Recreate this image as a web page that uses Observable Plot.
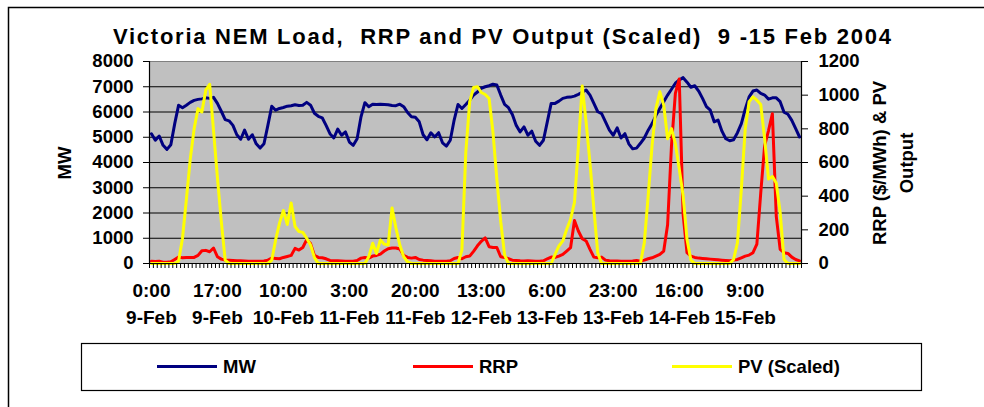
<!DOCTYPE html>
<html>
<head>
<meta charset="utf-8">
<script src="https://cdn.jsdelivr.net/npm/d3@7"></script>
<script src="https://cdn.jsdelivr.net/npm/@observablehq/plot@0.6"></script>
<style>
  html, body { margin: 0; padding: 0; background: #fff; }
  #chart { position: relative; width: 984px; height: 407px; overflow: hidden; }
  #chart svg { position: absolute; left: 0; top: 0; }
</style>
</head>
<body>
<div id="chart"></div>
<script>
// Hourly values, 0:00 9-Feb-2004 to 23:00 15-Feb-2004 (168 hours)
const mw = [
  5140,4880,5050,4680,4520,4700,5540,6270,6170,6270,6380,6460,6500,6520,6560,6540,6580,6340,6030,5700,5650,5470,5100,4920,
  5280,4920,5100,4740,4570,4740,5470,6230,6070,6140,6180,6230,6250,6290,6260,6270,6380,6270,5950,5830,5770,5470,5140,4970,
  5320,5080,5210,4810,4680,4940,5810,6370,6210,6310,6300,6310,6300,6290,6260,6250,6310,6210,5980,5810,5790,5610,5100,4900,
  5180,5010,5180,4780,4650,4880,5680,6300,6140,6300,6470,6670,6790,6940,7000,7040,7100,7070,6670,6300,6170,5900,5470,5210,
  5410,5080,5240,4840,4680,4880,5610,6340,6340,6430,6540,6580,6590,6630,6700,6780,6870,6670,6340,6010,5940,5610,5280,5080,
  5370,4970,5140,4740,4540,4570,4760,4970,5280,5540,5870,6140,6410,6670,6900,7140,7270,7360,7180,6980,7040,6830,6540,6210,
  6070,5610,5680,5240,4940,4860,4900,5180,5540,6110,6600,6830,6870,6740,6670,6510,6560,6560,6410,5990,5910,5670,5340,5010
];
const rrp = [
  14,12,14,8,8,10,24,38,34,36,36,36,48,76,78,70,92,40,26,20,20,18,16,16,
  15,14,14,14,14,15,20,32,30,28,36,42,48,90,80,95,142,118,48,36,34,28,18,16,
  16,15,14,14,14,18,32,36,32,44,48,56,74,88,92,92,86,48,36,32,36,24,20,18,
  16,14,14,14,14,16,30,36,28,40,44,72,105,132,152,100,95,95,40,36,28,20,18,16,
  15,16,15,14,14,16,28,38,36,44,54,74,94,255,193,147,134,84,38,34,38,20,16,15,
  15,14,14,14,15,18,14,20,28,34,44,54,74,230,700,1010,1096,290,64,44,36,32,30,28,
  26,24,22,20,18,16,20,24,34,44,50,64,115,420,700,790,890,280,84,64,60,38,24,16
];
const pv = [
  0,0,0,0,0,0,0,15,150,380,620,800,920,900,1030,1065,790,510,250,20,0,0,0,0,
  0,0,0,0,0,0,0,20,140,240,315,232,360,220,190,185,150,110,35,0,0,0,0,0,
  0,0,0,0,0,0,0,0,40,120,60,140,115,110,330,210,110,40,10,0,0,0,0,0,
  0,0,0,0,0,0,0,0,80,660,960,1046,1050,1016,1004,980,780,500,250,50,0,0,0,0,
  0,0,0,0,0,0,0,0,54,104,134,203,263,363,695,1055,840,596,325,62,0,0,0,0,
  0,0,0,0,0,0,0,124,403,702,921,1020,941,741,801,712,562,403,144,20,0,0,0,0,
  0,0,0,0,0,0,24,124,442,801,961,990,970,945,741,502,516,478,303,24,0,0,0,0
];

// Axis tick values and category labels
const leftTicks = [0,1000,2000,3000,4000,5000,6000,7000,8000];
const rightTicks = [0,200,400,600,800,1000,1200];
const labelIndex = [0,17,34,51,68,85,102,119,136,153];
const labelTimes = ["0:00","17:00","10:00","3:00","20:00","13:00","6:00","23:00","16:00","9:00"];
const labelDates = ["9-Feb","9-Feb","10-Feb","11-Feb","11-Feb","12-Feb","13-Feb","13-Feb","14-Feb","15-Feb"];
const seriesNames = ["MW","RRP","PV (Scaled)"];
const seriesColors = ["#000080","#FF0000","#FFFF00"];

const k = 8000 / 1200; // secondary axis -> primary axis
const hours = d3.range(mw.length);
const boundaries = d3.range(mw.length + 1).map(b => b - 0.5);
const FONT = "'Liberation Sans', Arial, Helvetica, sans-serif";

const chart = Plot.plot({
  width: 984,
  height: 407,
  marginLeft: 149,
  marginRight: 183,
  marginTop: 61,
  marginBottom: 144,
  x: {domain: [-0.5, mw.length - 0.5], axis: null},
  y: {domain: [0, 8000], axis: null},
  style: {fontFamily: FONT, fontWeight: "bold", color: "#000", background: "transparent"},
  marks: [
    Plot.frame({fill: "#C0C0C0", stroke: "#808080"}),
    Plot.ruleY(leftTicks.slice(1, -1), {stroke: "#000", strokeWidth: 1}),
    Plot.line(hours, {x: d => d, y: i => mw[i], stroke: seriesColors[0], strokeWidth: 3, strokeLinejoin: "round"}),
    Plot.line(hours, {x: d => d, y: i => rrp[i] * k, stroke: seriesColors[1], strokeWidth: 3, strokeLinejoin: "round"}),
    Plot.line(hours, {x: d => d, y: i => pv[i] * k, stroke: seriesColors[2], strokeWidth: 3, strokeLinejoin: "round"}),
    Plot.ruleX([-0.5, mw.length - 0.5], {stroke: "#000", strokeWidth: 1.2}),
    Plot.ruleY([0], {stroke: "#000", strokeWidth: 1.2}),
    Plot.axisY({ticks: leftTicks, tickSize: 6, tickPadding: 10, fontSize: 18.5, fontWeight: "bold",
      tickFormat: d => String(d), label: null, stroke: "#000"}),
    Plot.axisY({anchor: "right", ticks: rightTicks.map(v => v * k), tickSize: 6, tickPadding: 11,
      fontSize: 18.5, fontWeight: "bold", tickFormat: d => String(Math.round(d / k)), label: null, stroke: "#000"}),
    Plot.axisX({ticks: boundaries, tickSize: 5, tickFormat: () => "", label: null, stroke: "#000"}),
    Plot.axisX({ticks: labelIndex, tickSize: 0, tickPadding: 14, fontSize: 19, fontWeight: "bold", lineHeight: 1.42,
      tickFormat: d => { const j = labelIndex.indexOf(d); return labelTimes[j] + "\n" + labelDates[j]; }, label: null})
  ]
});

document.getElementById("chart").appendChild(chart);
const svg = d3.select(chart);

// Outer chart border
svg.insert("rect", ":first-child")
  .attr("x", 8.5).attr("y", 7.5).attr("width", 1100).attr("height", 1100)
  .attr("fill", "#fff").attr("stroke", "#000").attr("stroke-width", 1.5);

// Title
svg.append("text")
  .attr("x", 113).attr("y", 44)
  .attr("text-anchor", "start")
  .attr("font-size", 22).attr("font-weight", "bold").attr("font-family", FONT)
  .attr("textLength", 778).attr("lengthAdjust", "spacing")
  .style("white-space", "pre")
  .text("Victoria NEM Load,  RRP and PV Output (Scaled)  9 -15 Feb 2004");

// Left axis title
svg.append("text")
  .attr("transform", "translate(65,163) rotate(-90)")
  .attr("text-anchor", "middle").attr("dy", "0.35em")
  .attr("font-size", 18.5).attr("font-weight", "bold").attr("font-family", FONT)
  .text("MW");

// Right axis title (two lines)
[["RRP ($/MWh) & PV", 880], ["Output", 907]].forEach(([t, x]) => {
  svg.append("text")
    .attr("transform", `translate(${x},163) rotate(-90)`)
    .attr("text-anchor", "middle").attr("dy", "0.35em")
    .attr("font-size", 18.5).attr("font-weight", "bold").attr("font-family", FONT)
    .text(t);
});

// Legend
const lg = svg.append("g");
lg.append("rect").attr("x", 81.5).attr("y", 343.5).attr("width", 840).attr("height", 47)
  .attr("fill", "#fff").attr("stroke", "#000").attr("stroke-width", 1.2);
const legendX = [157, 413, 672];
seriesNames.forEach((name, j) => {
  lg.append("line").attr("x1", legendX[j]).attr("x2", legendX[j] + 60)
    .attr("y1", 366.5).attr("y2", 366.5)
    .attr("stroke", seriesColors[j]).attr("stroke-width", 3);
  lg.append("text").attr("x", legendX[j] + 66).attr("y", 366.5).attr("dy", "0.35em")
    .attr("text-anchor", "start")
    .attr("font-size", 18.5).attr("font-weight", "bold").attr("font-family", FONT)
    .text(name);
});
</script>
</body>
</html>
